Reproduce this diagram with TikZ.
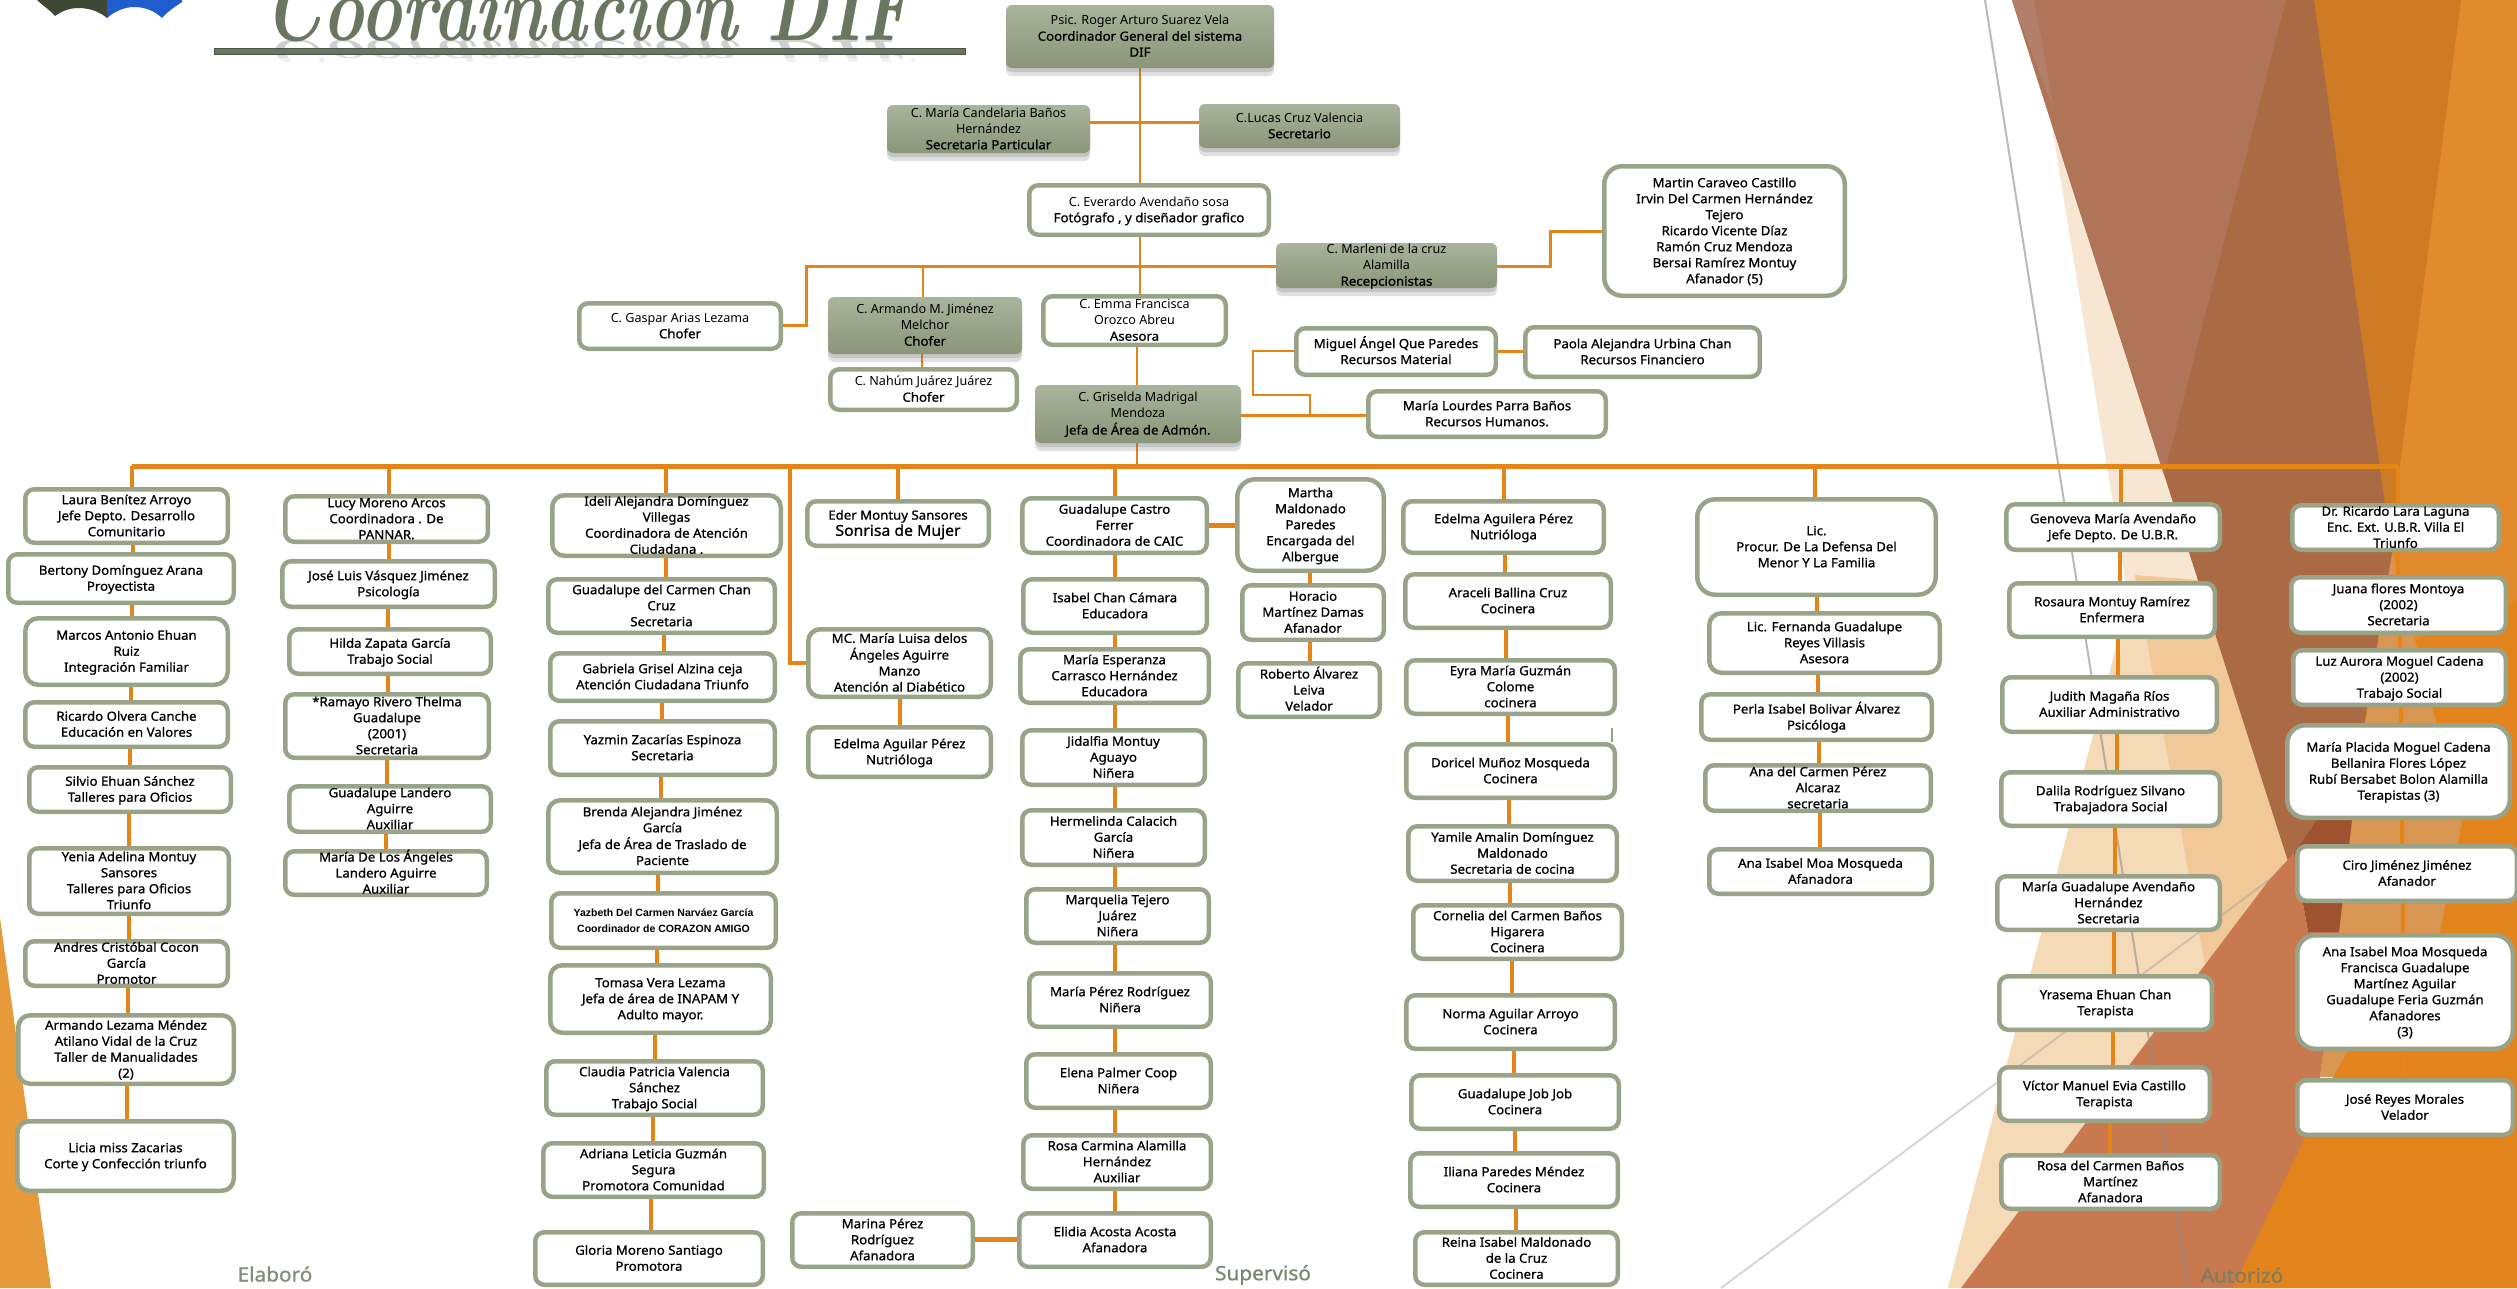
\documentclass[tikz,border=0pt]{standalone}
\usepackage{fontspec}
\setsansfont{Noto Sans}[BoldFont=Noto Sans,BoldFeatures={FakeBold=.9,FakeStretch=1.05}]
\newfontfamily\yazfont{Liberation Sans}
\usetikzlibrary{shadows}
\pgfdeclarelayer{back}\pgfdeclarelayer{wires}
\pgfsetlayers{back,wires,main}
\definecolor{wireC}{HTML}{E58417}
\definecolor{frameC}{HTML}{98A388}
\definecolor{greyTop}{HTML}{AAB49C}
\definecolor{greyBot}{HTML}{8A9579}
\definecolor{titleC}{HTML}{6B7660}
\tikzset{
  x=1pt,y=-1pt,
  boxw/.style={draw=frameC,fill=white,line width=4.5pt,rounded corners=9pt,inner sep=0pt,
    font=\sffamily\bfseries\fontsize{12.6}{16}\selectfont,text=black},
  bigr/.style={rounded corners=18pt},
  boxg/.style={draw=none,rounded corners=6pt,top color=greyTop,bottom color=greyBot,inner sep=0pt,
    font=\sffamily\bfseries\fontsize{12.6}{16}\selectfont,text=black,
    drop shadow={shadow xshift=0pt,shadow yshift=-4pt,fill=black!60,opacity=.22},
    drop shadow={shadow xshift=0pt,shadow yshift=-8pt,fill=black!60,opacity=.2}},
  wthin/.style={draw=wireC,line width=2.2pt},
  wmid/.style={draw=wireC,line width=3pt},
  wthick/.style={draw=wireC,line width=4pt},
  wbus/.style={draw=wireC,line width=5pt},
  signlab/.style={font=\sffamily\bfseries\fontsize{19.8}{24}\selectfont},
  titlefont/.style={font=\rmfamily\bfseries\itshape\addfontfeatures{FakeBold=1.2}\fontsize{75}{75}\selectfont},
  facet/.style={draw=none},
}
% [style]{name}{x1}{y1}{x2}{y2}{text}  -- box given by its outer edges in pixels
\newcommand{\bx}[7][]{%
  \pgfmathsetmacro{\bcx}{(#3+#5)/2}\pgfmathsetmacro{\bcy}{(#4+#6)/2}%
  \pgfmathsetmacro{\bw}{#5-#3-4.5}\pgfmathsetmacro{\bh}{#6-#4-4.5}%
  \node[boxw,#1,minimum width=\bw pt,minimum height=\bh pt] (#2) at (\bcx,\bcy)
    {\smash{\raisebox{-4pt}{\begin{tabular}{@{}c@{}}#7\end{tabular}}}};}
\newcommand{\gx}[6]{%
  \pgfmathsetmacro{\bcx}{(#2+#4)/2}\pgfmathsetmacro{\bcy}{(#3+#5)/2}%
  \pgfmathsetmacro{\bw}{#4-#2}\pgfmathsetmacro{\bh}{#5-#3}%
  \node[boxg,minimum width=\bw pt,minimum height=\bh pt] (#1) at (\bcx,\bcy)
    {\smash{\raisebox{-4pt}{\begin{tabular}{@{}c@{}}#6\end{tabular}}}};}
\newcommand{\rg}[1]{{\mdseries #1}}
\newcommand{\vl}[3]{\draw[wthick] (#1.south -| #3,0) -- (#2.north -| #3,0);}
\newcommand{\drp}[2]{\coordinate (t-#1) at (#2,466); \draw[wthick] (t-#1) -- (#1.north -| t-#1);}
\begin{document}
\begin{tikzpicture}
\useasboundingbox (0,0) rectangle (2517,1288);
\clip (0,0) rectangle (2517,1288);

\begin{pgfonlayer}{back}
  \fill[white] (0,0) rectangle (2517,1288);
  % left corner
  \fill[facet,fill={rgb,255:red,232;green,154;blue,58}] (0,918) -- (51,1288) -- (0,1288) -- cycle;
  % right facets
  \fill[facet,fill={rgb,255:red,226;green,139;blue,44}] (2300,0) -- (2517,0) -- (2517,1288) -- (2233,1288) -- (2333,1077) -- (2350,823) -- (2385,553) -- cycle;
  \fill[facet,fill={rgb,255:red,226;green,131;blue,28}] (2415,640) -- (2517,600) -- (2517,1288) -- (2233,1288) -- (2333,1077) -- (2462,823) -- cycle;
  \fill[facet,fill={rgb,255:red,217;green,149;blue,82}] (2392,553) -- (2415,640) -- (2462,823) -- (2440,932) -- (2347,1052) -- (2333,1077) -- (2320,1077) -- (2350,823) -- cycle;
  \fill[facet,fill={rgb,255:red,207;green,122;blue,36}] (2314,0) -- (2461,0) -- (2398,480) -- (2392,553) -- cycle;
  \fill[facet,fill={rgb,255:red,247;green,230;blue,209}] (2035,20) -- (2143,690) -- (2300,880) -- (2150,0) -- cycle;
  \fill[facet,fill={rgb,255:red,245;green,218;blue,184}] (1948,1288) -- (2135,575) -- (2290,880) -- (1970,1288) -- cycle;
  \fill[facet,fill={rgb,255:red,241;green,201;blue,152}] (2135,575) -- (2205,965) -- (2300,850) -- (2200,580) -- cycle;
  \fill[facet,fill={rgb,255:red,170;green,106;blue,67}] (2012,0) -- (2314,0) -- (2392,553) -- (2367,707) -- (2350,823) -- (2294,880) -- cycle;
  \fill[facet,fill={rgb,255:red,176;green,117;blue,88}] (2012,0) -- (2286,0) -- (2164,475) -- cycle;
  \fill[facet,fill={rgb,255:red,178;green,128;blue,106}] (2012,0) -- (2034,0) -- (2054,110) -- cycle;
  \fill[facet,fill={rgb,255:red,201;green,121;blue,80}] (1961,1288) -- (2269,880) -- (2294,853) -- (2308,932) -- (2339,932) -- (2320,1077) -- (2305,1137) -- (2233,1288) -- cycle;
  \fill[facet,fill={rgb,255:red,159;green,82;blue,48}] (2317,820) -- (2352,820) -- (2339,932) -- (2308,932) -- (2294,853) -- cycle;
  \draw[black!45,line width=2pt,opacity=.6] (1985,0) -- (2188,1288);
  \draw[black!40,line width=2pt,opacity=.4] (1721,1288) -- (2269,880);
\end{pgfonlayer}

% logo
\fill[fill={rgb,255:red,62;green,72;blue,52}] (37,0) .. controls (42,5) and (50,10) .. (55,16) .. controls (63,10) and (72,8) .. (78,8) .. controls (90,8) and (100,12) .. (107,18) -- (107,0) -- cycle;
\fill[fill={rgb,255:red,31;green,92;blue,205}] (107,0) -- (107,18) .. controls (115,11) and (125,7) .. (134,7) .. controls (145,7) and (155,11) .. (162,18) .. controls (168,11) and (176,6) .. (182,2) -- (182,0) -- cycle;

% title
\begin{scope}[shift={(264,40)},yscale=-.55,xscale=.94]
  \node[anchor=base west,transform shape,inner sep=0pt,opacity=.3,text=black!60,titlefont] (titlemirror) at (0,0) {Coordinación DIF};
\end{scope}
\fill[white,opacity=.35] (214,54) rectangle (965,58);
\fill[white,opacity=.7] (214,58) rectangle (965,62);
\fill[white] (214,62) rectangle (965,80);
\fill[titleC,draw=titleC!70!black,line width=.6pt] (214,48) rectangle (965,54);
\begin{scope}[shift={(264,40)},yscale=1.25,xscale=.94]
  \node[anchor=base west,transform shape,inner sep=0pt,text=titleC,titlefont] (title) at (0,0) {Coordinación DIF};
\end{scope}

% top block
\gx{psic}{1006}{5}{1274}{68}{\rg{Psic. Roger Arturo Suarez Vela}\\Coordinador General del sistema\\DIF}
\gx{cand}{887}{105}{1090}{153}{\rg{C. María Candelaria Baños}\\\rg{Hernández}\\Secretaria Particular}
\gx{lucas}{1199}{104}{1400}{148}{\rg{C.Lucas Cruz Valencia}\\Secretario}
\bx{everardo}{1027}{183}{1271}{237}{\rg{C. Everardo Avendaño sosa}\\Fotógrafo , y diseñador grafico}
\gx{marleni}{1276}{243}{1497}{288}{\rg{C. Marleni de la cruz}\\\rg{Alamilla}\\Recepcionistas}
\bx[bigr]{martin}{1602}{164}{1847}{298}{Martin Caraveo Castillo\\Irvin Del Carmen Hernández\\Tejero\\Ricardo Vicente Díaz\\Ramón Cruz Mendoza\\Bersai Ramírez Montuy\\Afanador (5)}
\bx{gaspar}{577}{301}{783}{351}{\rg{C. Gaspar Arias Lezama}\\Chofer}
\gx{armando}{828}{297}{1022}{354}{\rg{C. Armando M. Jiménez}\\\rg{Melchor}\\Chofer}
\bx{nahum}{828}{367}{1019}{412}{\rg{C. Nahúm Juárez Juárez}\\Chofer}
\bx{emma}{1041}{294}{1228}{347}{\rg{C. Emma Francisca}\\\rg{Orozco Abreu}\\Asesora}
\gx{griselda}{1035}{385}{1241}{443}{\rg{C. Griselda Madrigal}\\\rg{Mendoza}\\Jefa de Área de Admón.}
\bx{miguel}{1294}{326}{1498}{377}{Miguel Ángel Que Paredes\\Recursos Material}
\bx{paola}{1523}{325}{1762}{379}{Paola Alejandra Urbina Chan\\Recursos Financiero}
\bx{lourdes}{1366}{389}{1608}{439}{María Lourdes Parra Baños\\Recursos Humanos.}

% column 1
\bx{laura}{23}{487}{230}{545}{Laura Benítez Arroyo\\Jefe Depto. Desarrollo\\Comunitario}
\bx{bertony}{6}{552}{236}{605}{Bertony Domínguez Arana\\Proyectista}
\bx[rounded corners=13pt]{marcos}{23}{616}{230}{687}{Marcos Antonio Ehuan\\Ruiz\\Integración Familiar}
\bx{ricardo}{23}{700}{230}{749}{Ricardo Olvera Canche\\Educación en Valores}
\bx{silvio}{27}{765}{233}{814}{Silvio Ehuan Sánchez\\Talleres para Oficios}
\bx{yenia}{27}{846}{231}{916}{Yenia Adelina Montuy\\Sansores\\Talleres para Oficios\\Triunfo}
\bx{andres}{23}{939}{230}{988}{Andres Cristóbal Cocon\\García\\Promotor}
\bx[rounded corners=12pt]{armlez}{16}{1013}{236}{1086}{Armando Lezama Méndez\\Atilano Vidal de la Cruz\\Taller de Manualidades\\(2)}
\bx[rounded corners=12pt]{licia}{15}{1119}{236}{1193}{Licia miss Zacarias\\Corte y Confección triunfo}

% column 2
\bx{lucy}{283}{494}{490}{544}{Lucy Moreno Arcos\\Coordinadora . De\\PANNAR.}
\bx{jose}{280}{559}{497}{609}{José Luis Vásquez Jiménez\\Psicología}
\bx{hilda}{287}{627}{493}{676}{Hilda Zapata García\\Trabajo Social}
\bx{ramayo}{283}{692}{491}{760}{*Ramayo Rivero Thelma\\Guadalupe\\(2001)\\Secretaria}
\bx{landero}{287}{784}{493}{834}{Guadalupe Landero\\Aguirre\\Auxiliar}
\bx{angeles}{283}{849}{489}{897}{María De Los Ángeles\\Landero Aguirre\\Auxiliar}

% column 3
\bx[rounded corners=12pt]{ideli}{550}{493}{783}{558}{Ideli Alejandra Domínguez\\Villegas\\Coordinadora de Atención\\Ciudadana .}
\bx{chan}{546}{577}{777}{635}{Guadalupe del Carmen Chan\\Cruz\\Secretaria}
\bx{gabriela}{548}{651}{777}{703}{Gabriela Grisel Alzina ceja\\Atención Ciudadana Triunfo}
\bx{yazmin}{548}{719}{777}{777}{Yazmin Zacarías Espinoza\\Secretaria}
\bx[rounded corners=12pt]{brenda}{546}{798}{779}{875}{Brenda Alejandra Jiménez\\García\\Jefa de Área de Traslado de\\Paciente}
\bx{yazbeth}{549}{891}{778}{950}{\yazfont\fontsize{10.5}{13}\selectfont Yazbeth Del Carmen Narváez García\\\yazfont\fontsize{10.5}{13}\selectfont Coordinador de CORAZON AMIGO}
\bx[rounded corners=12pt]{tomasa}{548}{963}{773}{1035}{Tomasa Vera Lezama\\Jefa de área de INAPAM Y\\Adulto mayor.}
\bx{claudia}{544}{1059}{765}{1117}{Claudia Patricia Valencia\\Sánchez\\Trabajo Social}
\bx{adriana}{541}{1141}{766}{1199}{Adriana Leticia Guzmán\\Segura\\Promotora Comunidad}
\bx{gloria}{533}{1230}{765}{1287}{Gloria Moreno Santiago\\Promotora}

% column 4
\bx{eder}{805}{499}{991}{548}{Eder Montuy Sansores\\{\fontsize{15}{16}\selectfont Sonrisa de Mujer}}
\bx[rounded corners=12pt]{mcmaria}{806}{627}{993}{699}{MC. María Luisa delos\\Ángeles Aguirre\\Manzo\\Atención al Diabético}
\bx{aguilar}{806}{725}{993}{779}{Edelma Aguilar Pérez\\Nutrióloga}
\bx{marina}{790}{1211}{975}{1269}{Marina Pérez\\Rodríguez\\Afanadora}

% column 5
\bx{castro}{1020}{496}{1209}{555}{Guadalupe Castro\\Ferrer\\Coordinadora de CAIC}
\bx{isabel}{1021}{577}{1209}{635}{Isabel Chan Cámara\\Educadora}
\bx{esperanza}{1018}{647}{1211}{705}{María Esperanza\\Carrasco Hernández\\Educadora}
\bx{jidalfia}{1020}{728}{1207}{787}{Jidalfia Montuy\\Aguayo\\Niñera}
\bx{hermelinda}{1020}{808}{1207}{867}{Hermelinda Calacich\\García\\Niñera}
\bx{marquelia}{1024}{887}{1211}{945}{Marquelia Tejero\\Juárez\\Niñera}
\bx{mperez}{1027}{971}{1213}{1029}{María Pérez Rodríguez\\Niñera}
\bx{elena}{1024}{1052}{1213}{1110}{Elena Palmer Coop\\Niñera}
\bx{carmina}{1021}{1133}{1213}{1191}{Rosa Carmina Alamilla\\Hernández\\Auxiliar}
\bx{elidia}{1017}{1211}{1213}{1269}{Elidia Acosta Acosta\\Afanadora}

% albergue
\bx[bigr]{martha}{1235}{477}{1386}{573}{Martha\\Maldonado\\Paredes\\Encargada del\\Albergue}
\bx{horacio}{1240}{583}{1386}{642}{Horacio\\Martínez Damas\\Afanador}
\bx{roberto}{1236}{661}{1382}{719}{Roberto Álvarez\\Leiva\\Velador}

% column 6
\bx{aguilera}{1401}{499}{1606}{555}{Edelma Aguilera Pérez\\Nutrióloga}
\bx{araceli}{1403}{572}{1613}{630}{Araceli Ballina Cruz\\Cocinera}
\bx{eyra}{1404}{658}{1617}{716}{Eyra María Guzmán\\Colome\\cocinera}
\bx{doricel}{1404}{742}{1617}{800}{Doricel Muñoz Mosqueda\\Cocinera}
\bx{yamile}{1406}{824}{1619}{883}{Yamile Amalin Domínguez\\Maldonado\\Secretaria de cocina}
\bx{cornelia}{1411}{903}{1624}{961}{Cornelia del Carmen Baños\\Higarera\\Cocinera}
\bx{norma}{1404}{993}{1617}{1051}{Norma Aguilar Arroyo\\Cocinera}
\bx{jobjob}{1409}{1073}{1621}{1131}{Guadalupe Job Job\\Cocinera}
\bx{iliana}{1408}{1151}{1620}{1209}{Iliana Paredes Méndez\\Cocinera}
\bx{reina}{1413}{1230}{1620}{1287}{Reina Isabel Maldonado\\de la Cruz\\Cocinera}

% column 7
\bx[bigr]{lic}{1695}{497}{1938}{597}{Lic.\\Procur. De La Defensa Del\\Menor Y La Familia}
\bx[rounded corners=12pt]{fernanda}{1707}{611}{1942}{675}{Lic. Fernanda Guadalupe\\Reyes Villasis\\Asesora}
\bx{perla}{1699}{692}{1934}{742}{Perla Isabel Bolivar Álvarez\\Psicóloga}
\bx{alcaraz}{1703}{763}{1933}{813}{Ana del Carmen Pérez\\Alcaraz\\secretaria}
\bx{moa}{1707}{847}{1934}{896}{Ana Isabel Moa Mosqueda\\Afanadora}

% column 8
\bx{genoveva}{2004}{502}{2222}{552}{Genoveva María Avendaño\\Jefe Depto. De U.B.R.}
\bx{rosaura}{2007}{581}{2217}{639}{Rosaura Montuy Ramírez\\Enfermera}
\bx{judith}{2000}{675}{2219}{734}{Judith Magaña Ríos\\Auxiliar Administrativo}
\bx{dalila}{1999}{770}{2222}{828}{Dalila Rodríguez Silvano\\Trabajadora Social}
\bx{avendano}{1995}{874}{2222}{932}{María Guadalupe Avendaño\\Hernández\\Secretaria}
\bx{yrasema}{1997}{974}{2214}{1032}{Yrasema Ehuan Chan\\Terapista}
\bx{victor}{1997}{1065}{2212}{1123}{Víctor Manuel Evia Castillo\\Terapista}
\bx{rosabanos}{1999}{1153}{2222}{1211}{Rosa del Carmen Baños\\Martínez\\Afanadora}

% column 9
\bx{lara}{2290}{503}{2501}{552}{Dr. Ricardo Lara Laguna\\Enc. Ext. U.B.R. Villa El\\Triunfo}
\bx{juana}{2289}{575}{2508}{635}{Juana flores Montoya\\(2002)\\Secretaria}
\bx{aurora}{2291}{648}{2508}{707}{Luz Aurora Moguel Cadena\\(2002)\\Trabajo Social}
\bx[bigr]{placida}{2285}{723}{2512}{820}{María Placida Moguel Cadena\\Bellanira Flores López\\Rubí Bersabet Bolon Alamilla\\Terapistas (3)}
\bx{ciro}{2295}{844}{2519}{903}{Ciro Jiménez Jiménez\\Afanador}
\bx[bigr]{anamoa}{2295}{933}{2515}{1051}{Ana Isabel Moa Mosqueda\\Francisca Guadalupe\\Martínez Aguilar\\Guadalupe Feria Guzmán\\Afanadores\\(3)}
\bx{reyes}{2295}{1078}{2515}{1137}{José Reyes Morales\\Velador}

% signatures
\node[signlab,text={rgb,255:red,129;green,142;blue,121}] (elaboro) at (275,1274) {Elaboró};
\node[signlab,text={rgb,255:red,123;green,136;blue,113}] (superviso) at (1263,1275) {Supervisó};
\node[signlab,text={rgb,255:red,125;green,126;blue,93}] (autorizo) at (2242,1275) {Autorizó};

\begin{pgfonlayer}{wires}
  % top block
  \draw[wthin] (psic.south) -- (everardo.north -| psic.south);
  \draw[wmid] (cand.east |- 0,122) -- (lucas.west |- 0,122);
  \draw[wthin] (everardo.south -| 1140,0) -- (emma.north -| 1140,0);
  \draw[wthin] (emma.south -| 1137,0) -- (griselda.north -| 1137,0);
  \coordinate (busL) at (132,466);
  \coordinate (busR) at (2398,466);
  \draw[wthin] (griselda.south -| 1137,0) -- (busL -| 1137,0);
  \draw[wmid] (marleni.west |- 0,266) -- (806,266) -- (806,325) -- (gaspar.east |- 0,325);
  \draw[wthin] (armando.north -| 923,0) -- (923,266);
  \draw[wthin] (armando.south -| 922,0) -- (nahum.north -| 922,0);
  \draw[wmid] (marleni.east |- 0,266) -- (1550,266) -- (1550,231) -- (martin.west |- 0,231);
  \draw[wthin] (miguel.west |- 0,351) -- (1253,351) -- (1253,395) -- (1310,395) -- (1310,417);
  \draw[wmid] (griselda.east |- 0,415) -- (lourdes.west |- 0,415);
  \draw[wmid] (miguel.east |- 0,351) -- (paola.west |- 0,351);
  % bus
  \draw[wbus] (busL) -- (busR);
  \drp{laura}{132}\drp{lucy}{389}\drp{ideli}{666}\drp{eder}{898}\drp{castro}{1114.5}
  \drp{aguilera}{1503.5}\drp{lic}{1815}\drp{genoveva}{2121}\drp{lara}{2398}
  \coordinate (t-mc) at (790,466);
  \draw[wthick] (t-mc) -- (790,663) -- (mcmaria.west |- 0,663);
  % column 1
  \vl{laura}{bertony}{132.6}\vl{bertony}{marcos}{131.6}\vl{marcos}{ricardo}{130.6}\vl{ricardo}{silvio}{130}
  \vl{silvio}{yenia}{129}\vl{yenia}{andres}{128.5}\vl{andres}{armlez}{127.5}\vl{armlez}{licia}{126.5}
  % column 2
  \vl{lucy}{jose}{389}\vl{jose}{hilda}{388}\vl{hilda}{ramayo}{388}\vl{ramayo}{landero}{387}\vl{landero}{angeles}{386}
  % column 3
  \vl{ideli}{chan}{666}\vl{chan}{gabriela}{664}\vl{gabriela}{yazmin}{662}\vl{yazmin}{brenda}{661}
  \vl{brenda}{yazbeth}{658}\vl{yazbeth}{tomasa}{656.6}\vl{tomasa}{claudia}{654.6}\vl{claudia}{adriana}{652.6}\vl{adriana}{gloria}{650.5}
  % column 4
  \vl{mcmaria}{aguilar}{899.6}
  % column 5
  \vl{castro}{isabel}{1114.5}\vl{isabel}{esperanza}{1114.5}\vl{esperanza}{jidalfia}{1114.5}\vl{jidalfia}{hermelinda}{1114.5}
  \vl{hermelinda}{marquelia}{1114.5}\vl{marquelia}{mperez}{1114.5}\vl{mperez}{elena}{1114.5}\vl{elena}{carmina}{1114.5}\vl{carmina}{elidia}{1114.5}
  \draw[wbus] (castro.east |- 0,525) -- (martha.west |- 0,525);
  \draw[wbus] (marina.east |- 0,1239) -- (elidia.west |- 0,1239);
  \vl{martha}{horacio}{1310}\vl{horacio}{roberto}{1310}
  % column 6
  \vl{aguilera}{araceli}{1505}\vl{araceli}{eyra}{1506}\vl{eyra}{doricel}{1508}\vl{doricel}{yamile}{1509}\vl{yamile}{cornelia}{1510}
  \vl{cornelia}{norma}{1512}\vl{norma}{jobjob}{1514}\vl{jobjob}{iliana}{1515}\vl{iliana}{reina}{1516}
  \coordinate (stubtop) at (1612,728);
  \draw[draw=frameC,line width=2.5pt] (stubtop) -- (stubtop |- doricel.north);
  % column 7
  \vl{lic}{fernanda}{1817}\vl{fernanda}{perla}{1818}\vl{perla}{alcaraz}{1819}\vl{alcaraz}{moa}{1820}
  % column 8
  \vl{genoveva}{rosaura}{2120}\vl{rosaura}{judith}{2118}\vl{judith}{dalila}{2116.5}\vl{dalila}{avendano}{2115}
  \vl{avendano}{yrasema}{2114}\vl{yrasema}{victor}{2112.6}\vl{victor}{rosabanos}{2110}
  % column 9
  \vl{lara}{juana}{2398}\vl{juana}{aurora}{2400}\vl{aurora}{placida}{2401}\vl{placida}{ciro}{2402}\vl{ciro}{anamoa}{2403}\vl{anamoa}{reyes}{2404}
\end{pgfonlayer}
\end{tikzpicture}
\end{document}
